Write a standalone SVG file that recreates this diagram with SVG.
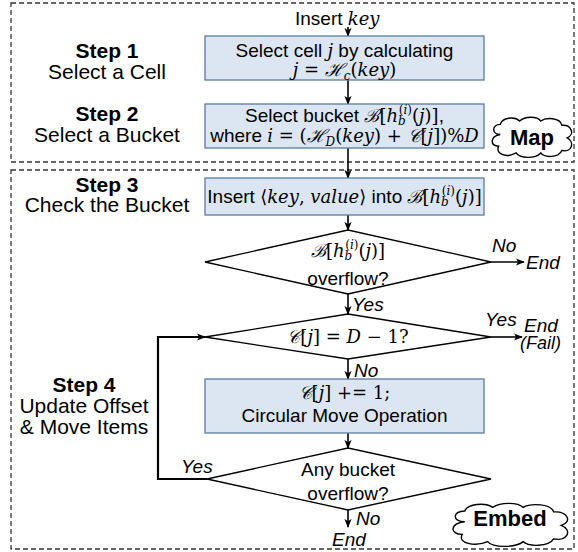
<svg xmlns="http://www.w3.org/2000/svg" width="578" height="552" viewBox="0 0 578 552">
<defs>
<style>
.sec{fill:none;stroke:#333;stroke-width:1.3;stroke-dasharray:5 3}
.box{fill:#dce6f2;stroke:#5a7ca3;stroke-width:1.3}
.dia{fill:#fff;stroke:#000;stroke-width:1.3}
.cloud{fill:#fff;stroke:#000;stroke-width:1.4}
.c{stroke:#000;stroke-width:1.6;fill:none;marker-end:url(#ah)}
.loop{stroke:#000;stroke-width:2.2;fill:none;marker-end:url(#ah)}
text{font-family:"Liberation Sans",Arial,sans-serif;font-size:19px;fill:#000}
.lbl{font-size:21px}
.b{font-weight:bold}
.i{font-style:italic}
.m{font-family:"DejaVu Serif","Liberation Serif",serif;font-style:italic;font-size:18px}
.u{font-family:"DejaVu Serif","Liberation Serif",serif;font-style:normal;font-size:18px}
.s{font-size:12px}
.cl{font-size:22px;font-weight:bold}
</style>
<marker id="ah" viewBox="0 0 10 10" refX="9" refY="5" markerWidth="9" markerHeight="9" markerUnits="userSpaceOnUse" orient="auto"><path d="M0,1 L10,5 L0,9 L2.5,5 z" fill="#000"/></marker>
<path id="cloudp" vector-effect="non-scaling-stroke" d="M14,22 C4,22 4,10 14,10 C16,2 30,0 36,6 C42,0 56,0 60,6 C66,1 82,2 84,11 C95,10 99,22 90,26 C99,31 95,44 84,41 C80,50 64,50 60,44 C54,51 36,51 32,44 C22,50 8,46 12,36 C2,36 2,24 14,22 Z"/>
</defs>

<g id="sections">
<rect class="sec" x="11" y="3" width="563" height="159"/>
<rect class="sec" x="11" y="170" width="563" height="379"/>
</g>

<g id="step-labels">
<text class="lbl b" x="107" y="58" text-anchor="middle">Step 1</text>
<text class="lbl" x="107" y="79" text-anchor="middle">Select a Cell</text>
<text class="lbl b" x="107" y="121" text-anchor="middle">Step 2</text>
<text class="lbl" x="107" y="142" text-anchor="middle">Select a Bucket</text>
<text class="lbl b" x="107" y="192" text-anchor="middle">Step 3</text>
<text class="lbl" x="107" y="212" text-anchor="middle">Check the Bucket</text>
<text class="lbl b" x="84" y="392" text-anchor="middle">Step 4</text>
<text class="lbl" x="84" y="413" text-anchor="middle">Update Offset</text>
<text class="lbl" x="84" y="434" text-anchor="middle">&amp; Move Items</text>
</g>

<g id="connectors">
<path class="c" d="M348,27 V36"/>
<path class="c" d="M348,80 V104"/>
<path class="c" d="M348,148 V178"/>
<path class="c" d="M348,215 V230"/>
<path class="c" d="M348,294 V314"/>
<path class="c" d="M491,262 H524"/>
<path class="c" d="M491,337 H522"/>
<path class="c" d="M348,359 V379"/>
<path class="c" d="M348,433 V448"/>
<path class="c" d="M348,510 V527"/>
<path class="loop" d="M207,479 H158 V337 H205"/>
<text class="i" x="492" y="252">No</text>
<text class="i" x="526" y="269">End</text>
<text class="i" x="352" y="311">Yes</text>
<text class="i" x="485" y="326">Yes</text>
<text class="i" x="524" y="332">End</text>
<text class="i" x="520" y="349" style="font-size:18px">(Fail)</text>
<text class="i" x="354" y="377">No</text>
<text class="i" x="181" y="473">Yes</text>
<text class="i" x="356" y="525">No</text>
<text class="i" x="349" y="546" text-anchor="middle">End</text>
</g>

<g id="n-insert">
<text x="295" y="25">Insert <tspan class="m">key</tspan></text>
</g>

<g id="n-box1">
<rect class="box" x="205" y="36" width="279" height="44"/>
<text x="344.5" y="57" text-anchor="middle">Select cell <tspan class="m">j</tspan> by calculating</text>
<text x="344.5" y="76" text-anchor="middle"><tspan class="m">j</tspan><tspan class="u"> = </tspan><tspan class="m">ℋ</tspan><tspan class="m s" dy="4">c</tspan><tspan class="u" dy="-4">(</tspan><tspan class="m">key</tspan><tspan class="u">)</tspan></text>
</g>

<g id="n-box2">
<rect class="box" x="205" y="104" width="279" height="44"/>
<text x="344.5" y="122" text-anchor="middle">Select bucket <tspan class="m">ℬ</tspan><tspan class="u">[</tspan><tspan class="m">h</tspan><tspan class="m s" dy="3">b</tspan><tspan class="u s" dx="-7" dy="-11">(</tspan><tspan class="m s">i</tspan><tspan class="u s">)</tspan><tspan class="u" dy="8">(</tspan><tspan class="m">j</tspan><tspan class="u">)]</tspan>,</text>
<text x="344.5" y="142" text-anchor="middle">where <tspan class="m">i</tspan><tspan class="u"> = (</tspan><tspan class="m">ℋ</tspan><tspan class="m s" dy="4">D</tspan><tspan class="u" dy="-4">(</tspan><tspan class="m">key</tspan><tspan class="u">) + </tspan><tspan class="m">𝒞</tspan><tspan class="u">[</tspan><tspan class="m">j</tspan><tspan class="u">])%</tspan><tspan class="m">D</tspan></text>
</g>

<g id="n-map">
<use href="#cloudp" class="cloud" transform="translate(488,116) scale(0.88,0.84)"/>
<text class="cl" x="532" y="145" text-anchor="middle">Map</text>
</g>

<g id="n-box3">
<rect class="box" x="205" y="178" width="279" height="37"/>
<text x="344.5" y="203" text-anchor="middle">Insert <tspan class="u">⟨</tspan><tspan class="m">key</tspan><tspan class="u">, </tspan><tspan class="m">value</tspan><tspan class="u">⟩</tspan> into <tspan class="m">ℬ</tspan><tspan class="u">[</tspan><tspan class="m">h</tspan><tspan class="m s" dy="3">b</tspan><tspan class="u s" dx="-7" dy="-11">(</tspan><tspan class="m s">i</tspan><tspan class="u s">)</tspan><tspan class="u" dy="8">(</tspan><tspan class="m">j</tspan><tspan class="u">)]</tspan></text>
</g>

<g id="n-dia1">
<polygon class="dia" points="205,262 348,230 491,262 348,294"/>
<text x="348" y="257" text-anchor="middle"><tspan class="m">ℬ</tspan><tspan class="u">[</tspan><tspan class="m">h</tspan><tspan class="m s" dy="3">b</tspan><tspan class="u s" dx="-7" dy="-11">(</tspan><tspan class="m s">i</tspan><tspan class="u s">)</tspan><tspan class="u" dy="8">(</tspan><tspan class="m">j</tspan><tspan class="u">)]</tspan></text>
<text x="348" y="285" text-anchor="middle">overflow?</text>
</g>

<g id="n-dia2">
<polygon class="dia" points="205,337 348,314 491,337 348,359"/>
<text x="348" y="343" text-anchor="middle"><tspan class="m">𝒞</tspan><tspan class="u">[</tspan><tspan class="m">j</tspan><tspan class="u">] = </tspan><tspan class="m">D</tspan><tspan class="u"> − 1?</tspan></text>
</g>

<g id="n-box4">
<rect class="box" x="205" y="379" width="279" height="54"/>
<text x="344.5" y="399" text-anchor="middle"><tspan class="m">𝒞</tspan><tspan class="u">[</tspan><tspan class="m">j</tspan><tspan class="u">] += 1;</tspan></text>
<text x="344.5" y="422" text-anchor="middle">Circular Move Operation</text>
</g>

<g id="n-dia3">
<polygon class="dia" points="207,479 348,448 491,479 348,510"/>
<text x="348" y="476" text-anchor="middle">Any bucket</text>
<text x="348" y="500" text-anchor="middle">overflow?</text>
</g>

<g id="n-embed">
<use href="#cloudp" class="cloud" transform="translate(447,502) scale(1.27,0.9)"/>
<text class="cl" x="510" y="526" text-anchor="middle">Embed</text>
</g>
</svg>
